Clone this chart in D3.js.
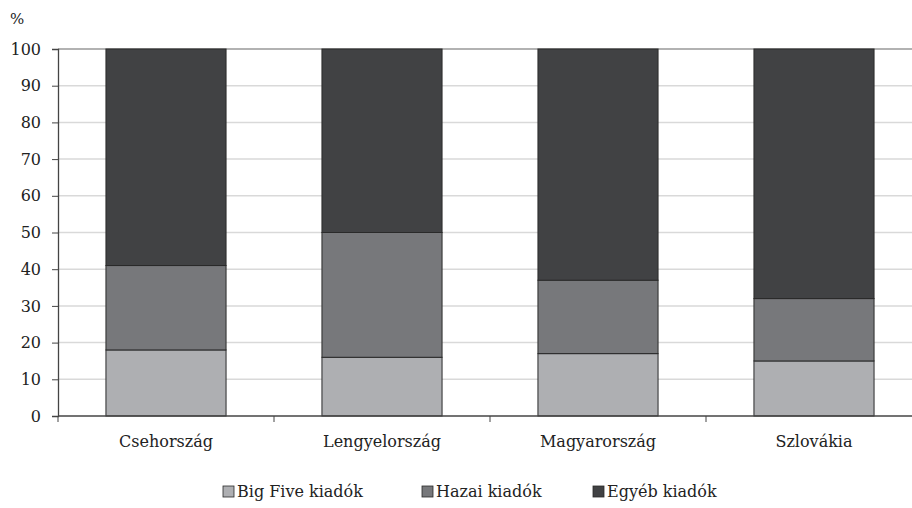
<!DOCTYPE html>
<html>
<head>
<meta charset="utf-8">
<script src="https://cdn.jsdelivr.net/npm/d3@7"></script>
<style>
  body { margin: 0; background: #fff; }
  svg text { fill: #222; }
</style>
</head>
<body>
<svg id="chart" width="912" height="508"></svg>
<script>
// data
var countries = ["Csehország", "Lengyelország", "Magyarország", "Szlovákia"];
var series = ["Big Five kiadók", "Hazai kiadók", "Egyéb kiadók"];
var bigFive = [18, 16, 17, 15];
var hazai = [23, 34, 20, 17];
var egyeb = [59, 50, 63, 68];
var yTicks = [0, 10, 20, 30, 40, 50, 60, 70, 80, 90, 100];
var colors = ["#aeafb2", "#77787b", "#414244"];

var svg = d3.select("#chart");
var mLeft = 58, mRight = 922, mTop = 49, mBottom = 416;
var serif = "DejaVu Serif";

var x = d3.scaleBand().domain(countries).range([mLeft, mRight]).paddingInner(0.444).paddingOuter(0.222);
var y = d3.scaleLinear().domain([0, 100]).range([mBottom, mTop]);

// gridlines
svg.append("g").selectAll("line")
  .data(yTicks.filter(function(d){ return d > 0; }))
  .enter().append("line")
  .attr("x1", mLeft).attr("x2", 912)
  .attr("y1", function(d){ return y(d); })
  .attr("y2", function(d){ return y(d); })
  .attr("stroke", function(d){ return d == 100 ? "#999" : "#d9d9d9"; })
  .attr("stroke-width", 1.5);

// stacks
var rows = countries.map(function(c, i) {
  return { country: c, "Big Five kiadók": bigFive[i], "Hazai kiadók": hazai[i], "Egyéb kiadók": egyeb[i] };
});
var stacked = d3.stack().keys(series)(rows);

svg.append("g").selectAll("g")
  .data(stacked)
  .enter().append("g")
  .attr("fill", function(d, i){ return colors[i]; })
  .selectAll("rect")
  .data(function(d){ return d; })
  .enter().append("rect")
  .attr("x", function(d){ return x(d.data.country); })
  .attr("width", x.bandwidth())
  .attr("y", function(d){ return y(d[1]); })
  .attr("height", function(d){ return y(d[0]) - y(d[1]); })
  .attr("stroke", "#2a2a2a")
  .attr("stroke-width", 1);

// y axis
var yAxis = svg.append("g").attr("transform", "translate(" + mLeft + ",0)")
  .call(d3.axisLeft(y).tickValues(yTicks).tickSize(6).tickPadding(11));
yAxis.attr("font-family", serif).attr("font-size", 16);
yAxis.select(".domain").attr("stroke", "#444").attr("stroke-width", 1.3);
yAxis.selectAll(".tick line").attr("stroke", "#444");
yAxis.selectAll("text").attr("fill", "#222");

// x axis
svg.append("line").attr("x1", mLeft).attr("x2", 912)
  .attr("y1", mBottom).attr("y2", mBottom)
  .attr("stroke", "#444").attr("stroke-width", 1.3);
svg.append("g").selectAll("line")
  .data(countries)
  .enter().append("line")
  .attr("x1", function(c, i){ return mLeft + i * x.step(); })
  .attr("x2", function(c, i){ return mLeft + i * x.step(); })
  .attr("y1", mBottom).attr("y2", mBottom + 6)
  .attr("stroke", "#444");
svg.append("g").selectAll("text")
  .data(countries)
  .enter().append("text")
  .attr("x", function(c){ return x(c) + x.bandwidth() / 2; })
  .attr("y", mBottom + 31)
  .attr("text-anchor", "middle")
  .attr("font-family", serif).attr("font-size", 16)
  .text(function(c){ return c; });

// unit label
svg.append("text").attr("x", 10).attr("y", 24)
  .attr("font-family", serif).attr("font-size", 15).text("%");

// legend
var legendX = [223, 422, 593];
var lg = svg.append("g").selectAll("g")
  .data(series)
  .enter().append("g")
  .attr("transform", function(d, i){ return "translate(" + legendX[i] + ",497)"; });
lg.append("rect").attr("x", 0).attr("y", -11).attr("width", 11).attr("height", 11)
  .attr("fill", function(d, i){ return colors[i]; })
  .attr("stroke", "#2a2a2a").attr("stroke-width", 0.8);
lg.append("text").attr("x", 14).attr("y", 0)
  .attr("font-family", serif).attr("font-size", 16)
  .text(function(d){ return d; });
</script>
</body>
</html>
